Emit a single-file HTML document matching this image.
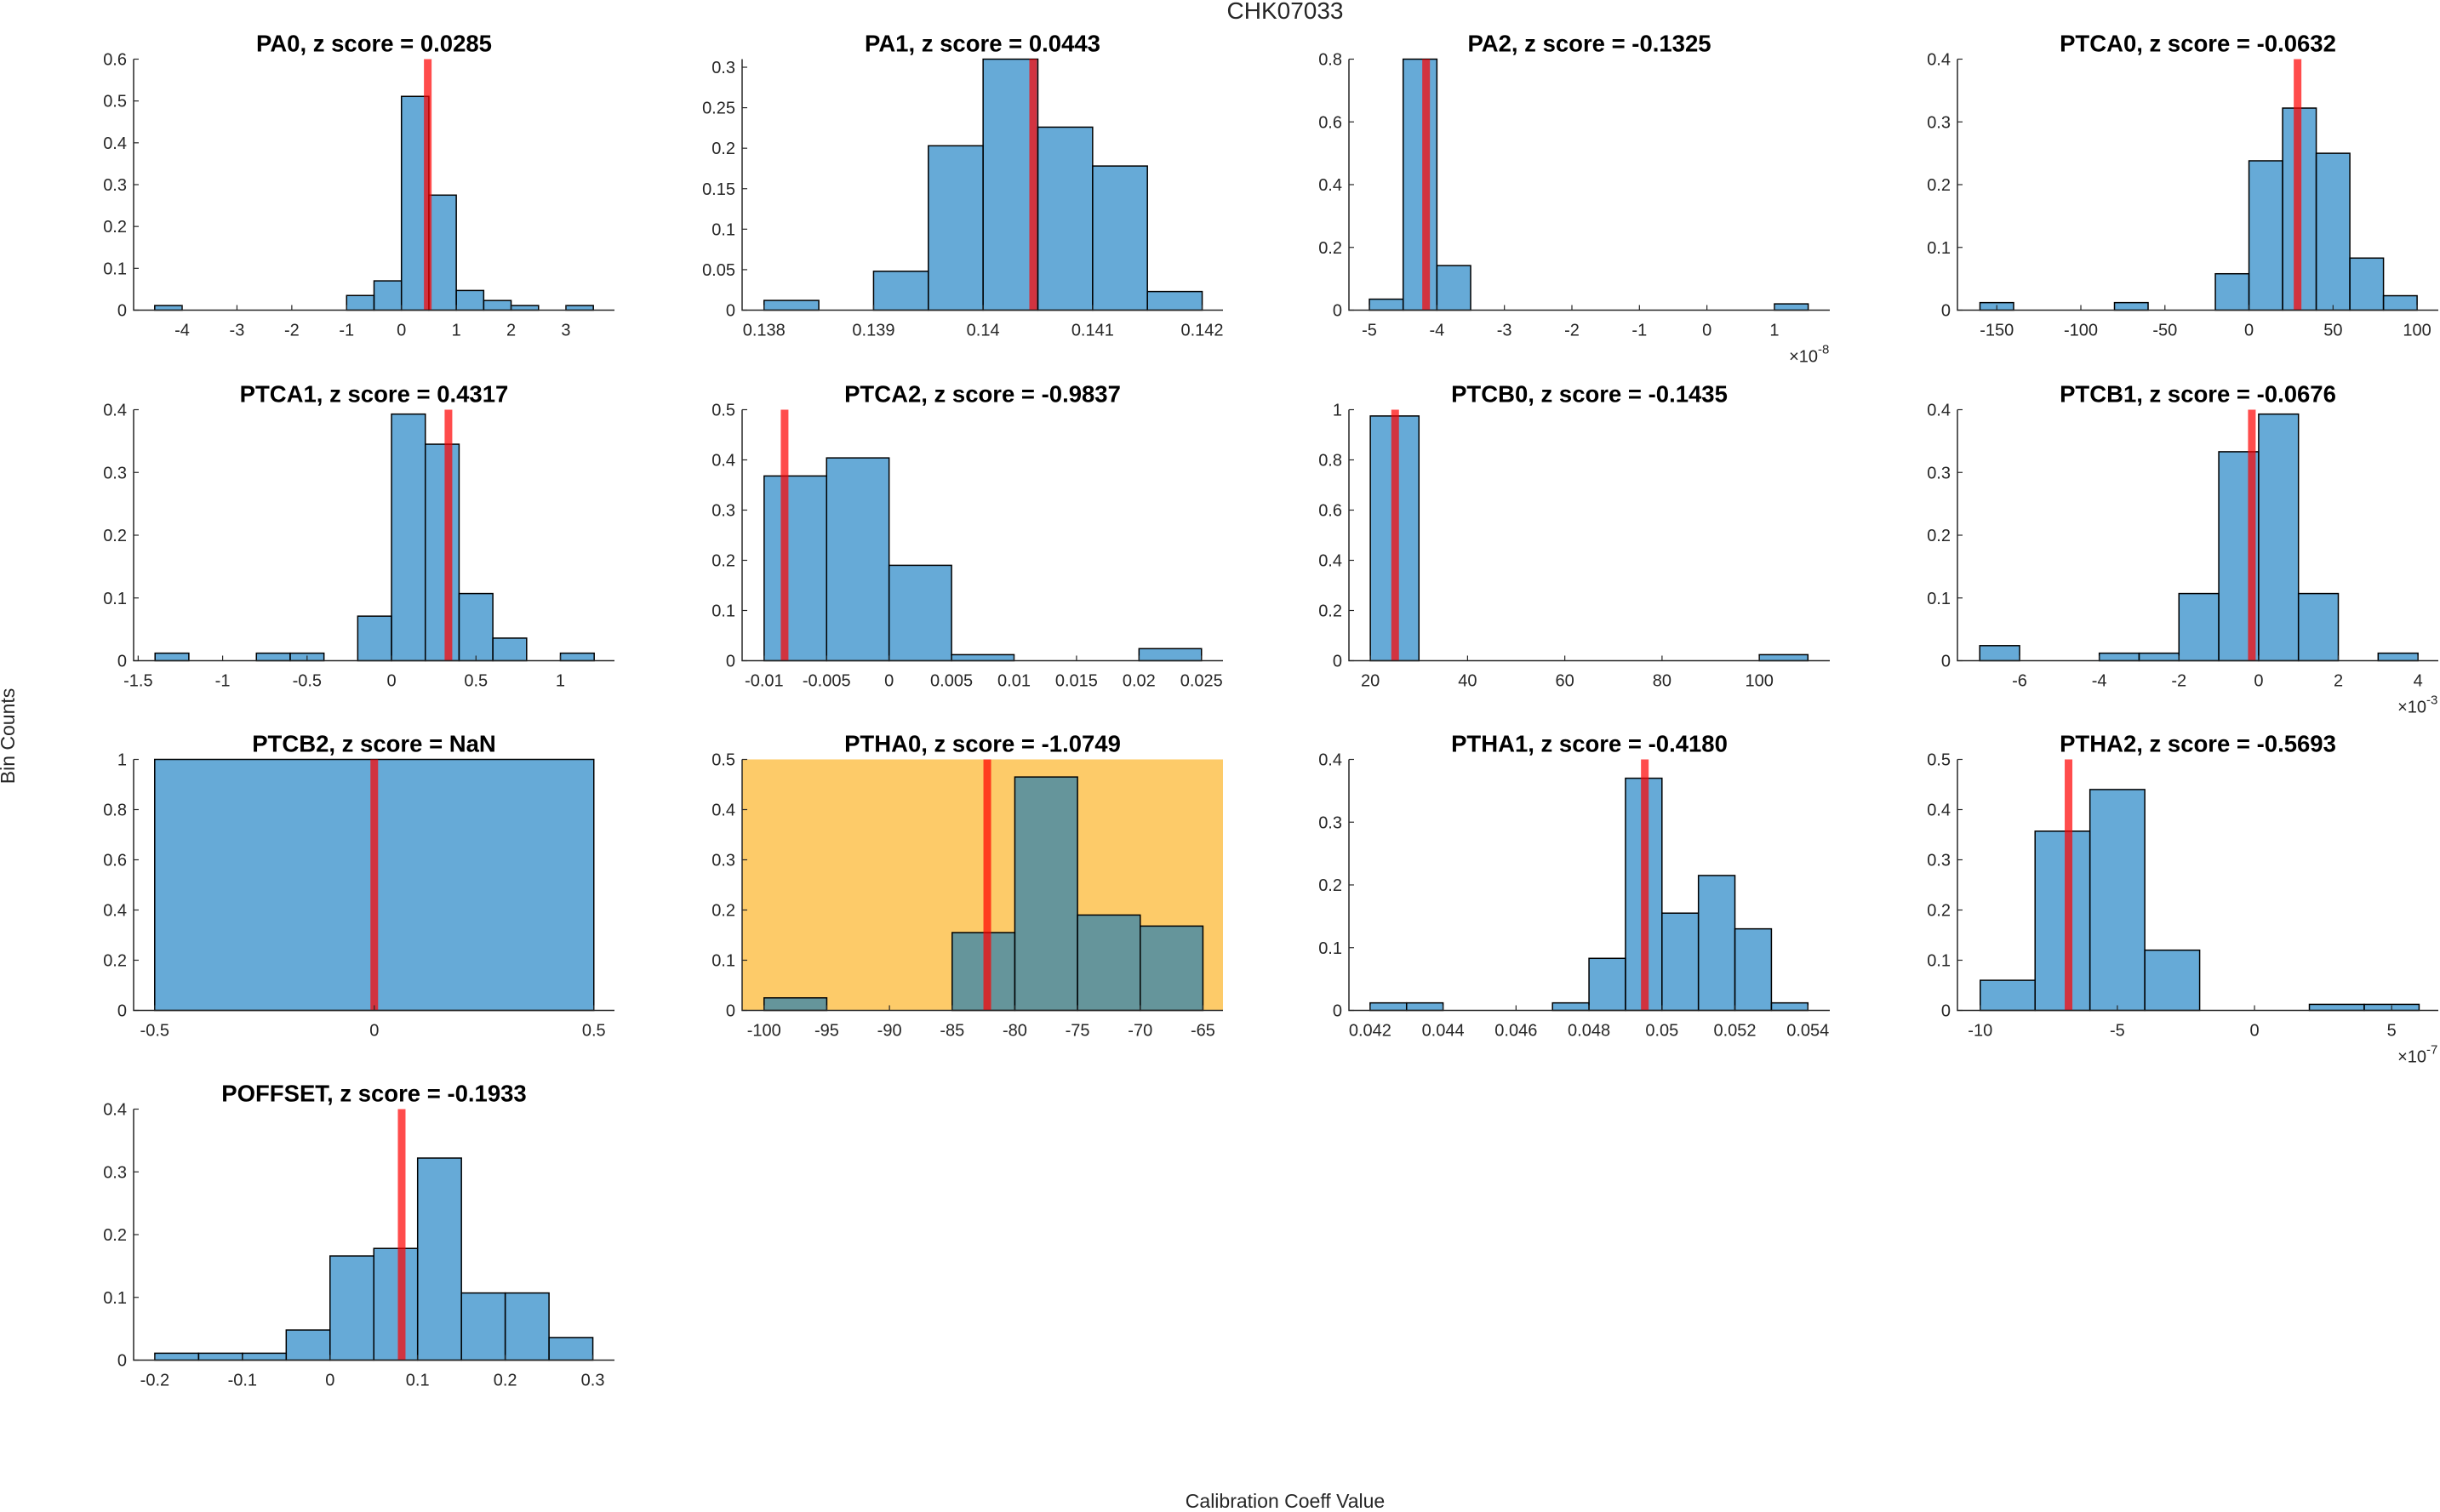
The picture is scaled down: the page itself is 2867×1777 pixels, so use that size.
<!DOCTYPE html>
<html><head><meta charset="utf-8"><style>
html,body{margin:0;padding:0;background:#fff;}
svg{display:block;font-family:"Liberation Sans",sans-serif;}
</style></head><body>
<svg id="fig" width="2867" height="1777" viewBox="0 0 2867 1777" xmlns="http://www.w3.org/2000/svg">
<text x="1510" y="22" font-size="28" text-anchor="middle" fill="#262626">CHK07033</text>
<text transform="translate(17,865) rotate(-90)" font-size="23" text-anchor="middle" fill="#262626">Bin Counts</text>
<text x="1510" y="1772" font-size="23" text-anchor="middle" fill="#262626">Calibration Coeff Value</text>
</svg>
<script>
// ---- data ----
const pa0Edges=[-4.5,-4,-3.5,-3,-2.5,-2,-1.5,-1,-0.5,0,0.5,1,1.5,2,2.5,3,3.5];
const pa0Counts=[0.011,0,0,0,0,0,0,0.035,0.07,0.511,0.275,0.047,0.023,0.011,0,0.011];
const pa0XTicks=[-4,-3,-2,-1,0,1,2,3];
const pa0YTicks=[0,0.1,0.2,0.3,0.4,0.5,0.6];
const pa0Value=0.48;

const pa1Edges=[0.138,0.1385,0.139,0.1395,0.14,0.1405,0.141,0.1415,0.142];
const pa1Counts=[0.012,0,0.048,0.203,0.31,0.226,0.178,0.023];
const pa1XTicks=[0.138,0.139,0.14,0.141,0.142];
const pa1YTicks=[0,0.05,0.1,0.15,0.2,0.25,0.3];
const pa1Value=0.140457;

const pa2Edges=[-5,-4.5,-4,-3.5,-3,-2.5,-2,-1.5,-1,-0.5,0,0.5,1,1.5];
const pa2Counts=[0.035,0.8,0.142,0,0,0,0,0,0,0,0,0,0.02];
const pa2XTicks=[-5,-4,-3,-2,-1,0,1];
const pa2YTicks=[0,0.2,0.4,0.6,0.8];
const pa2Value=-4.16;

const ptca0Edges=[-160,-140,-120,-100,-80,-60,-40,-20,0,20,40,60,80,100];
const ptca0Counts=[0.012,0,0,0,0.012,0,0,0.058,0.238,0.322,0.25,0.083,0.023];
const ptca0XTicks=[-150,-100,-50,0,50,100];
const ptca0YTicks=[0,0.1,0.2,0.3,0.4];
const ptca0Value=28.9;

const ptca1Edges=[-1.4,-1.2,-1,-0.8,-0.6,-0.4,-0.2,0,0.2,0.4,0.6,0.8,1,1.2];
const ptca1Counts=[0.012,0,0,0.012,0.012,0,0.071,0.393,0.345,0.107,0.036,0,0.012];
const ptca1XTicks=[-1.5,-1,-0.5,0,0.5,1];
const ptca1YTicks=[0,0.1,0.2,0.3,0.4];
const ptca1Value=0.337;

const ptca2Edges=[-0.01,-0.005,0,0.005,0.01,0.015,0.02,0.025];
const ptca2Counts=[0.368,0.404,0.19,0.012,0,0,0.024];
const ptca2XTicks=[-0.01,-0.005,0,0.005,0.01,0.015,0.02,0.025];
const ptca2YTicks=[0,0.1,0.2,0.3,0.4,0.5];
const ptca2Value=-0.00836;

const ptcb0Edges=[20,30,40,50,60,70,80,90,100,110];
const ptcb0Counts=[0.975,0,0,0,0,0,0,0,0.024];
const ptcb0XTicks=[20,40,60,80,100];
const ptcb0YTicks=[0,0.2,0.4,0.6,0.8,1];
const ptcb0Value=25.1;

const ptcb1Edges=[-7,-6,-5,-4,-3,-2,-1,0,1,2,3,4];
const ptcb1Counts=[0.024,0,0,0.012,0.012,0.107,0.333,0.393,0.107,0,0.012];
const ptcb1XTicks=[-6,-4,-2,0,2,4];
const ptcb1YTicks=[0,0.1,0.2,0.3,0.4];
const ptcb1Value=-0.17;

const ptcb2Edges=[-0.5,0.5];
const ptcb2Counts=[1];
const ptcb2XTicks=[-0.5,0,0.5];
const ptcb2YTicks=[0,0.2,0.4,0.6,0.8,1];
const ptcb2Value=0;

const ptha0Edges=[-100,-95,-90,-85,-80,-75,-70,-65];
const ptha0Counts=[0.025,0,0,0.155,0.465,0.19,0.168];
const ptha0XTicks=[-100,-95,-90,-85,-80,-75,-70,-65];
const ptha0YTicks=[0,0.1,0.2,0.3,0.4,0.5];
const ptha0Value=-82.2;

const ptha1Edges=[0.042,0.043,0.044,0.045,0.046,0.047,0.048,0.049,0.05,0.051,0.052,0.053,0.054];
const ptha1Counts=[0.012,0.012,0,0,0,0.012,0.083,0.37,0.155,0.215,0.13,0.012];
const ptha1XTicks=[0.042,0.044,0.046,0.048,0.05,0.052,0.054];
const ptha1YTicks=[0,0.1,0.2,0.3,0.4];
const ptha1Value=0.04953;

const ptha2Edges=[-10,-8,-6,-4,-2,0,2,4,6];
const ptha2Counts=[0.06,0.357,0.44,0.12,0,0,0.012,0.012];
const ptha2XTicks=[-10,-5,0,5];
const ptha2YTicks=[0,0.1,0.2,0.3,0.4,0.5];
const ptha2Value=-6.78;

const poffsetEdges=[-0.2,-0.15,-0.1,-0.05,0,0.05,0.1,0.15,0.2,0.25,0.3];
const poffsetCounts=[0.011,0.011,0.011,0.048,0.166,0.178,0.322,0.107,0.107,0.036];
const poffsetXTicks=[-0.2,-0.1,0,0.1,0.2,0.3];
const poffsetYTicks=[0,0.1,0.2,0.3,0.4];
const poffsetValue=0.0818;

const panels=[
 {id:'pa0',title:'PA0, z score = 0.0285',col:0,row:0,xlim:[-4.885,3.885],ylim:[0,0.6],edges:pa0Edges,counts:pa0Counts,xt:pa0XTicks,yt:pa0YTicks,v:pa0Value},
 {id:'pa1',title:'PA1, z score = 0.0443',col:1,row:0,xlim:[0.1378,0.14219],ylim:[0,0.31],edges:pa1Edges,counts:pa1Counts,xt:pa1XTicks,yt:pa1YTicks,v:pa1Value},
 {id:'pa2',title:'PA2, z score = -0.1325',col:2,row:0,xlim:[-5.303,1.82],ylim:[0,0.8],edges:pa2Edges,counts:pa2Counts,xt:pa2XTicks,yt:pa2YTicks,v:pa2Value,exp:'-8'},
 {id:'ptca0',title:'PTCA0, z score = -0.0632',col:3,row:0,xlim:[-173.4,112.6],ylim:[0,0.4],edges:ptca0Edges,counts:ptca0Counts,xt:ptca0XTicks,yt:ptca0YTicks,v:ptca0Value},
 {id:'ptca1',title:'PTCA1, z score = 0.4317',col:0,row:1,xlim:[-1.527,1.32],ylim:[0,0.4],edges:ptca1Edges,counts:ptca1Counts,xt:ptca1XTicks,yt:ptca1YTicks,v:ptca1Value},
 {id:'ptca2',title:'PTCA2, z score = -0.9837',col:1,row:1,xlim:[-0.01176,0.02672],ylim:[0,0.5],edges:ptca2Edges,counts:ptca2Counts,xt:ptca2XTicks,yt:ptca2YTicks,v:ptca2Value},
 {id:'ptcb0',title:'PTCB0, z score = -0.1435',col:2,row:1,xlim:[15.6,114.5],ylim:[0,1],edges:ptcb0Edges,counts:ptcb0Counts,xt:ptcb0XTicks,yt:ptcb0YTicks,v:ptcb0Value},
 {id:'ptcb1',title:'PTCB1, z score = -0.0676',col:3,row:1,xlim:[-7.56,4.51],ylim:[0,0.4],edges:ptcb1Edges,counts:ptcb1Counts,xt:ptcb1XTicks,yt:ptcb1YTicks,v:ptcb1Value,exp:'-3'},
 {id:'ptcb2',title:'PTCB2, z score = NaN',col:0,row:2,xlim:[-0.548,0.547],ylim:[0,1],edges:ptcb2Edges,counts:ptcb2Counts,xt:ptcb2XTicks,yt:ptcb2YTicks,v:ptcb2Value},
 {id:'ptha0',title:'PTHA0, z score = -1.0749',col:1,row:2,xlim:[-101.75,-63.4],ylim:[0,0.5],edges:ptha0Edges,counts:ptha0Counts,xt:ptha0XTicks,yt:ptha0YTicks,v:ptha0Value,bg:'#fdcb69'},
 {id:'ptha1',title:'PTHA1, z score = -0.4180',col:2,row:2,xlim:[0.04142,0.0546],ylim:[0,0.4],edges:ptha1Edges,counts:ptha1Counts,xt:ptha1XTicks,yt:ptha1YTicks,v:ptha1Value},
 {id:'ptha2',title:'PTHA2, z score = -0.5693',col:3,row:2,xlim:[-10.83,6.7],ylim:[0,0.5],edges:ptha2Edges,counts:ptha2Counts,xt:ptha2XTicks,yt:ptha2YTicks,v:ptha2Value,exp:'-7'},
 {id:'poffset',title:'POFFSET, z score = -0.1933',col:0,row:3,xlim:[-0.2242,0.3247],ylim:[0,0.4],edges:poffsetEdges,counts:poffsetCounts,xt:poffsetXTicks,yt:poffsetYTicks,v:poffsetValue}
];

const colX=[157,872,1585,2300], rowY=[69.5,481.5,892.5,1303.5];
const AW=565, AH=295;
const NS='http://www.w3.org/2000/svg';
const fig=document.getElementById('fig');
function mk(tag,attrs,parent){const e=document.createElementNS(NS,tag);for(const k in attrs)e.setAttribute(k,attrs[k]);parent.appendChild(e);return e;}
function fmt(v){return String(parseFloat(v.toPrecision(10)));}

panels.forEach(p=>{
  const L=colX[p.col], T=rowY[p.row], R=L+AW, B=T+AH;
  const sx=x=>L+(x-p.xlim[0])/(p.xlim[1]-p.xlim[0])*AW;
  const sy=y=>B-(y-p.ylim[0])/(p.ylim[1]-p.ylim[0])*AH;
  const g=mk('g',{},fig);
  
  
  if(p.bg){
    const bg=mk('rect',{x:L,y:T,width:AW,height:AH,fill:p.bg},g);
    
    
  }
  const t=mk('text',{x:(L+R)/2,y:T-9,'font-size':27.5,'font-weight':'bold','text-anchor':'middle',fill:'#000'},g);
  t.textContent=p.title;
  
  
  for(let i=0;i<p.counts.length;i++){
    const x0=sx(p.edges[i]), x1=sx(p.edges[i+1]), y=sy(p.counts[i]);
    const r=mk('rect',{x:x0,y:y,width:x1-x0,height:B-y,fill:'rgba(0,114,189,0.6)',stroke:'#000','stroke-width':1.5},g);
    
    
  }
  const rl=mk('rect',{x:sx(p.v)-4.5,y:T,width:9,height:AH,fill:'rgba(255,0,0,0.7)'},g);
  
  
  const ax=mk('path',{d:`M${L},${T}V${B}H${R}`,fill:'none',stroke:'#262626','stroke-width':1.5},g);
  
  
  p.xt.forEach(v=>{
    const x=sx(v);
    mk('line',{x1:x,y1:B,x2:x,y2:B-6,stroke:'#262626','stroke-width':1.2},g);
    const tl=mk('text',{x:x,y:B+30,'font-size':20,'text-anchor':'middle',fill:'#262626'},g);
    tl.textContent=fmt(v);
    
    
  });
  p.yt.forEach(v=>{
    const y=sy(v);
    mk('line',{x1:L,y1:y,x2:L+6,y2:y,stroke:'#262626','stroke-width':1.2},g);
    const tl=mk('text',{x:L-8,y:y+7,'font-size':20,'text-anchor':'end',fill:'#262626'},g);
    tl.textContent=fmt(v);
    
    
  });
  if(p.exp){
    const et=mk('text',{x:R-14,y:B+61,'font-size':20,'text-anchor':'end',fill:'#262626'},g);
    et.textContent='\u00d710';
    
    
    const es=mk('text',{x:R-14,y:B+51,'font-size':15,'text-anchor':'start',fill:'#262626'},g);
    es.textContent=p.exp;
    
    
  }
});
</script>
</body></html>
